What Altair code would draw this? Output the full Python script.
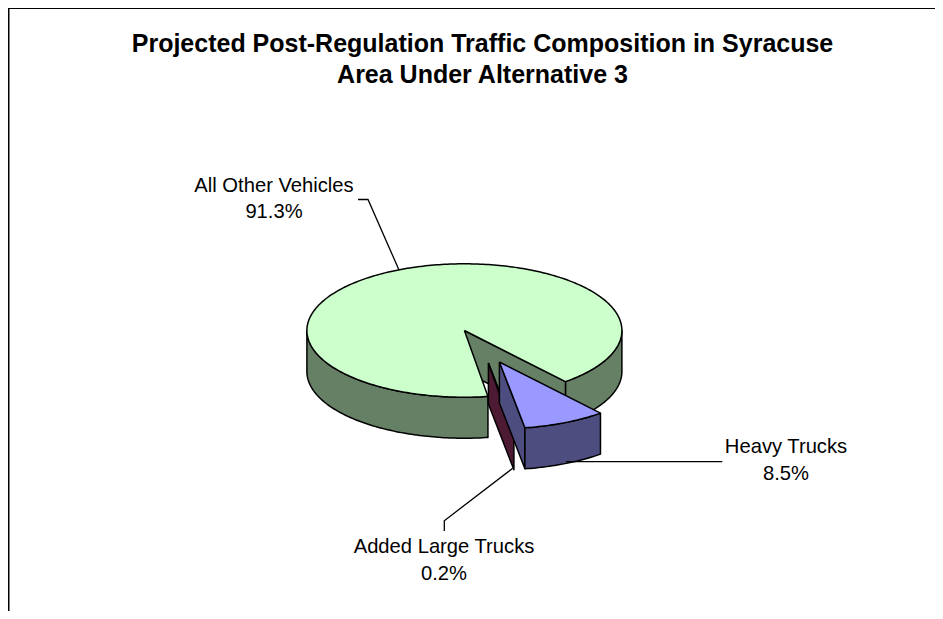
import math
import altair as alt
import pandas as pd

# ---- chart content ----
categories = ["All Other Vehicles", "Heavy Trucks", "Added Large Trucks"]
shares = [91.3, 8.5, 0.2]
share_labels = ["91.3%", "8.5%", "0.2%"]
title_lines = ["Projected Post-Regulation Traffic Composition in Syracuse",
               "Area Under Alternative 3"]
top_colors = ["#ccffcc", "#9999ff", "#993366"]
side_colors = ["#668066", "#4d4d80", "#4d1a33"]

# ---- pie geometry (page pixels) ----
W, H = 927, 603
CX, CY, RX, RY, DEPTH = 464.4, 330.5, 157.5, 66.7, 41
START_ANGLE = 171.4          # degrees clockwise from 12 o'clock
EXPLODE = [(0, 0), (35, 31.5), (24, 32.5)]

scale_x = alt.Scale(domain=[8, 8 + W], nice=False, zero=False)
scale_y = alt.Scale(domain=[8 + H, 8], nice=False, zero=False)


def pt(a, ox=0, oy=0, drop=0):
    r = math.radians(a)
    return (CX + ox + RX * math.sin(r), CY + oy - RY * math.cos(r) + drop)


def arc(a0, a1, ox=0, oy=0, drop=0, step=1.0):
    n = max(1, int(abs(a1 - a0) / step))
    return [pt(a0 + (a1 - a0) * i / n, ox, oy, drop) for i in range(n + 1)]


def poly(points, fill):
    xs = [p[0] for p in points] + [points[0][0]]
    ys = [p[1] for p in points] + [points[0][1]]
    df = pd.DataFrame({"x": xs, "y": ys, "i": range(len(xs))})
    return alt.Chart(df).mark_line(
        fill=fill, stroke="black", strokeWidth=1.5, strokeJoin="round"
    ).encode(
        x=alt.X("x:Q", scale=scale_x, axis=None),
        y=alt.Y("y:Q", scale=scale_y, axis=None),
        order=alt.Order("i:Q"),
    )


def side_wall(a0, a1, ox, oy, fill):
    top = arc(a0, a1, ox, oy)
    bottom = arc(a1, a0, ox, oy, DEPTH)
    return poly(top + bottom, fill)


spans = [s / sum(shares) * 360 for s in shares]
a_main0 = START_ANGLE
a_main1 = a_main0 + spans[0]          # clockwise, wraps round to the gap
a_heavy1 = a_main1 + spans[1]
a_added1 = a_heavy1 + spans[2]

layers = []
# main slice: outer wall, cut wall, top face
layers.append(side_wall(a_main1 - 360, 90, 0, 0, side_colors[0]))
layers.append(side_wall(a_main0, 270, 0, 0, side_colors[0]))
e = pt(a_main1)
layers.append(poly([(CX, CY), e, (e[0], e[1] + DEPTH), (CX, CY + DEPTH)], side_colors[0]))
layers.append(poly([(CX, CY)] + arc(a_main0, a_main1), top_colors[0]))

# added large trucks
ox, oy = EXPLODE[2]
e = pt(a_heavy1, ox, oy)
ap = (CX + ox, CY + oy)
layers.append(poly([ap, e, (e[0], e[1] + DEPTH), (ap[0], ap[1] + DEPTH)], side_colors[2]))
layers.append(poly([ap] + arc(a_heavy1, a_added1, ox, oy), top_colors[2]))

# heavy trucks
ox, oy = EXPLODE[1]
ap = (CX + ox, CY + oy)
e = pt(a_heavy1, ox, oy)
layers.append(poly([ap, e, (e[0], e[1] + DEPTH), (ap[0], ap[1] + DEPTH)], side_colors[1]))
layers.append(side_wall(a_main1, a_heavy1, ox, oy, side_colors[1]))
layers.append(poly([ap] + arc(a_main1, a_heavy1, ox, oy), top_colors[1]))

# leader lines
leaders = [
    [(358, 199.5), (368, 199.5), (399, 270)],
    [(566, 461.7), (722.3, 461.7)],
    [(512.7, 468.3), (444.3, 520.7), (444.3, 531)],
]
for k, pts in enumerate(leaders):
    df = pd.DataFrame({"x": [p[0] for p in pts], "y": [p[1] for p in pts], "i": range(len(pts))})
    layers.append(alt.Chart(df).mark_line(stroke="black", strokeWidth=1.3).encode(
        x=alt.X("x:Q", scale=scale_x, axis=None),
        y=alt.Y("y:Q", scale=scale_y, axis=None),
        order=alt.Order("i:Q")))

# labels
label_x = [274, 786, 444]
label_y = [[191.7, 218.3], [452.7, 480], [552.7, 580]]
rows = []
for c, s, x, ys in zip(categories, share_labels, label_x, label_y):
    rows.append({"t": c, "x": x, "y": ys[0]})
    rows.append({"t": s, "x": x, "y": ys[1]})
layers.append(alt.Chart(pd.DataFrame(rows)).mark_text(
    font="Liberation Sans", fontSize=20.2, color="black", align="center", baseline="alphabetic"
).encode(
    x=alt.X("x:Q", scale=scale_x, axis=None),
    y=alt.Y("y:Q", scale=scale_y, axis=None),
    text="t:N"))

# title
trows = [{"t": title_lines[0], "x": 482.5, "y": 51.7}, {"t": title_lines[1], "x": 482.5, "y": 83.3}]
layers.append(alt.Chart(pd.DataFrame(trows)).mark_text(
    font="Liberation Sans", fontSize=25, fontWeight="bold", color="black", align="center", baseline="alphabetic"
).encode(
    x=alt.X("x:Q", scale=scale_x, axis=None),
    y=alt.Y("y:Q", scale=scale_y, axis=None),
    text="t:N"))

# frame: only the left and top edges fall inside the window
fx = pd.DataFrame({"x": [8.7, 8.7, 8 + W], "y": [8 + H, 8.2, 8.2], "i": [0, 1, 2]})
layers.append(alt.Chart(fx).mark_line(stroke="black", strokeWidth=1.6, clip=False).encode(
    x=alt.X("x:Q", scale=scale_x, axis=None),
    y=alt.Y("y:Q", scale=scale_y, axis=None),
    order=alt.Order("i:Q")))

chart = alt.layer(*layers).properties(
    width=W, height=H, padding=0, autosize=alt.AutoSizeParams(type="none"),
    background="white",
).configure_view(stroke=None)

chart.save("out.html", embed_options={"renderer": "svg", "actions": False})
